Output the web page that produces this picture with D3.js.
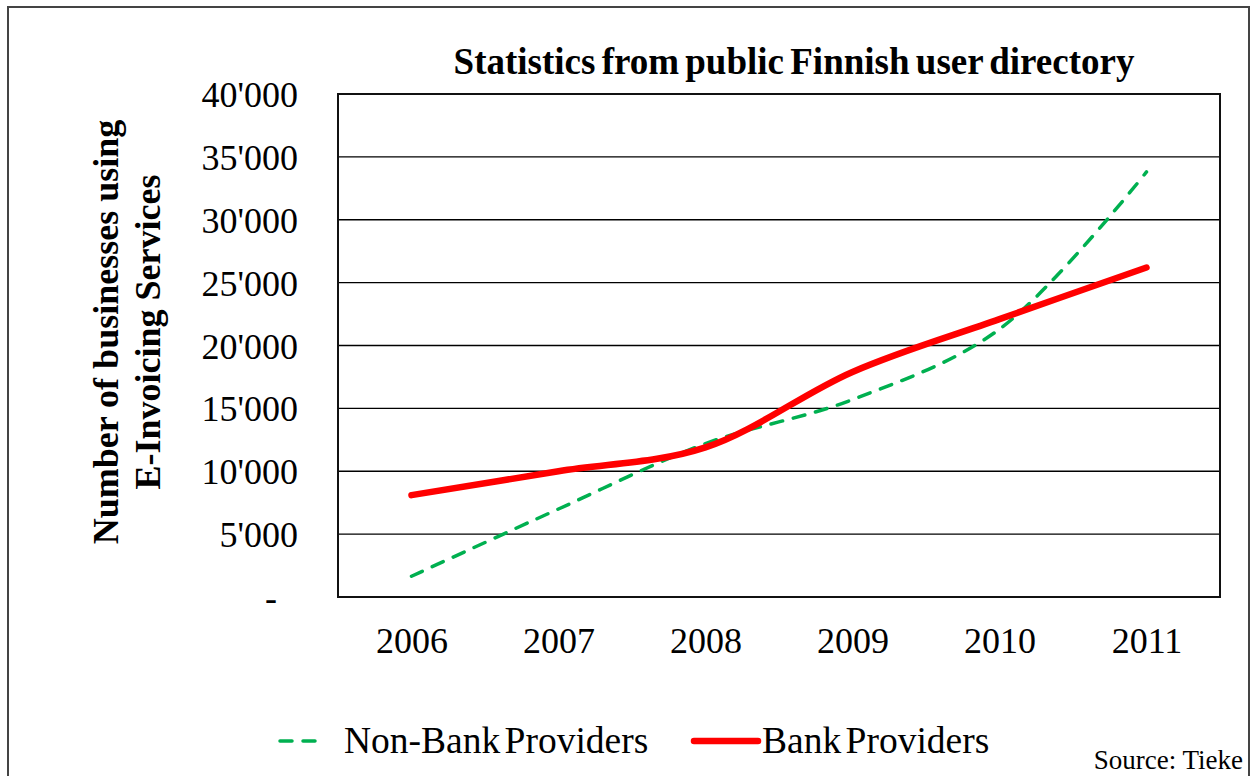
<!DOCTYPE html>
<html>
<head>
<meta charset="utf-8">
<script src="https://cdn.jsdelivr.net/npm/d3@7"></script>
<style>
  html, body { margin: 0; padding: 0; background: #fff; }
  svg text { font-family: "Liberation Serif", "Times New Roman", serif; fill: #000; }
</style>
</head>
<body>
<svg id="chart" width="1251" height="776"></svg>
<script>
// Years on the category axis
const years = ["2006", "2007", "2008", "2009", "2010", "2011"];
// Businesses using e-invoicing, by provider type
const nonBankProviders = [1650, 7000, 12200, 15700, 21300, 33800];
const bankProviders = [8100, 10000, 11900, 17900, 22100, 26200];
// Value axis ticks
const yTicks = [0, 5000, 10000, 15000, 20000, 25000, 30000, 35000, 40000];

const title = "Statistics from public Finnish user directory";
const yTitleLines = ["Number of businesses using", "E-Invoicing Services"];
const seriesNames = ["Non-Bank Providers", "Bank Providers"];
const sourceNote = "Source: Tieke";

const svg = d3.select("#chart");
const plot = { left: 338, right: 1220, top: 94, bottom: 597 };

// Outer frame
svg.append("rect")
  .attr("x", 8).attr("y", 7).attr("width", 1241).attr("height", 790)
  .attr("fill", "none").attr("stroke", "#444").attr("stroke-width", 2);

const x = d3.scalePoint().domain(years).range([plot.left, plot.right]).padding(0.5);
const y = d3.scaleLinear().domain([0, 40000]).range([plot.bottom, plot.top]);

// Horizontal gridlines
svg.append("g")
  .selectAll("line")
  .data(yTicks.filter(d => d > 0 && d < 40000))
  .join("line")
  .attr("x1", plot.left).attr("x2", plot.right)
  .attr("y1", d => y(d)).attr("y2", d => y(d))
  .attr("stroke", "#000").attr("stroke-width", 1.3);

// Plot frame
svg.append("rect")
  .attr("x", plot.left).attr("y", plot.top)
  .attr("width", plot.right - plot.left).attr("height", plot.bottom - plot.top)
  .attr("fill", "none").attr("stroke", "#111").attr("stroke-width", 2);

// Y axis labels
const fmt = d => d === 0 ? "-" : d3.format(",")(d).replace(/,/g, "'");
const yAxis = d3.axisLeft(y).tickValues(yTicks).tickFormat(fmt).tickSize(0).tickPadding(40);
const gy = svg.append("g").attr("transform", `translate(${plot.left},0)`).call(yAxis);
gy.select(".domain").remove();
gy.selectAll("text")
  .style("font-size", "36px")
  .attr("dy", "0.35em")
  .attr("dx", d => d === 0 ? -21 : 0);

// X axis labels
const xAxis = d3.axisBottom(x).tickSize(0).tickPadding(30);
const gx = svg.append("g").attr("transform", `translate(0,${plot.bottom})`).call(xAxis);
gx.select(".domain").remove();
gx.selectAll("text").style("font-size", "36px").attr("dy", "0.71em");

// Series lines (smoothed)
const line = d3.line()
  .x((d, i) => x(years[i]))
  .y(d => y(d))
  .curve(d3.curveCatmullRom.alpha(0.5));

svg.append("path")
  .datum(nonBankProviders)
  .attr("d", line)
  .attr("fill", "none")
  .attr("stroke", "#00b050")
  .attr("stroke-width", 3.5)
  .attr("stroke-dasharray", "12,11")
  .attr("stroke-linecap", "round");

svg.append("path")
  .datum(bankProviders)
  .attr("d", line)
  .attr("fill", "none")
  .attr("stroke", "#ff0000")
  .attr("stroke-width", 6.5)
  .attr("stroke-linecap", "round")
  .attr("stroke-linejoin", "round");

// Title
svg.append("text")
  .attr("x", 794).attr("y", 74)
  .attr("text-anchor", "middle")
  .style("font-size", "37px").style("font-weight", "bold")
  .style("word-spacing", "-3px")
  .text(title);

// Y axis title
const yt = svg.append("text")
  .attr("transform", "rotate(-90)")
  .style("font-size", "36px").style("font-weight", "bold")
  .attr("text-anchor", "middle");
yt.selectAll("tspan")
  .data(yTitleLines)
  .join("tspan")
  .attr("x", -332)
  .attr("y", (d, i) => 118 + i * 42)
  .text(d => d);

// Legend
const legY = 741;
svg.append("line")
  .attr("x1", 280).attr("x2", 322).attr("y1", legY).attr("y2", legY)
  .attr("stroke", "#00b050").attr("stroke-width", 3.5)
  .attr("stroke-dasharray", "12,11").attr("stroke-linecap", "round");
svg.append("text")
  .attr("x", 344).attr("y", legY + 12)
  .style("font-size", "37.5px")
  .style("word-spacing", "-5px")
  .text(seriesNames[0]);
svg.append("line")
  .attr("x1", 694).attr("x2", 758).attr("y1", legY).attr("y2", legY)
  .attr("stroke", "#ff0000").attr("stroke-width", 6.5).attr("stroke-linecap", "round");
svg.append("text")
  .attr("x", 762).attr("y", legY + 12)
  .style("font-size", "37.5px")
  .style("word-spacing", "-5px")
  .text(seriesNames[1]);

// Source note
svg.append("text")
  .attr("x", 1243).attr("y", 769)
  .attr("text-anchor", "end")
  .style("font-size", "27px")
  .text(sourceNote);
</script>
</body>
</html>
